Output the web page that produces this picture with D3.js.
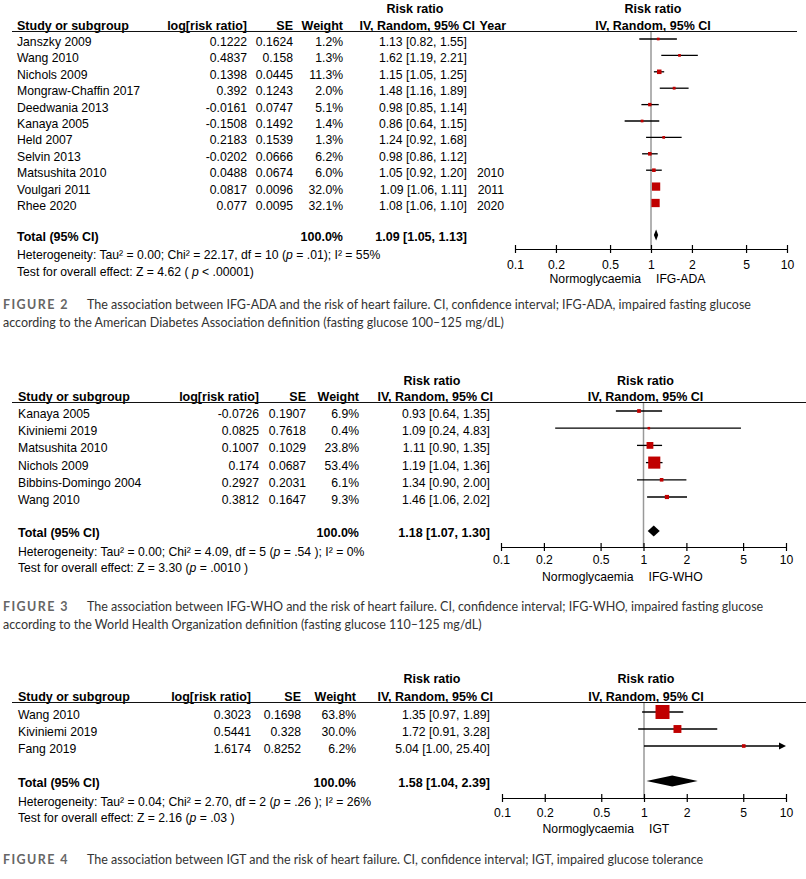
<!DOCTYPE html>
<html>
<head>
<meta charset="utf-8">
<script src="https://cdn.jsdelivr.net/npm/d3@7"></script>
<style>
  body { margin: 0; background: #fff; }
  svg text { font-family: "Liberation Sans", Arial, sans-serif; font-size: 12.2px; fill: #000; }
  svg text.bold { font-weight: bold; font-size: 12.5px; }
  svg text.cap { font-family: Lato, "Open Sans", sans-serif; font-size: 12.5px; fill: #333; }
  svg text.capLabel { font-family: Lato, "Open Sans", sans-serif; font-size: 12.5px; font-weight: bold; letter-spacing: 1.4px; fill: #666; }
</style>
</head>
<body>
<svg width="806" height="879"></svg>
<script>
// Figure 2: IFG-ADA
const adaStudies = ['Janszky 2009', 'Wang 2010', 'Nichols 2009', 'Mongraw-Chaffin 2017', 'Deedwania 2013',
  'Kanaya 2005', 'Held 2007', 'Selvin 2013', 'Matsushita 2010', 'Voulgari 2011', 'Rhee 2020']
const adaLogRR = [0.1222, 0.4837, 0.1398, 0.392, -0.0161, -0.1508, 0.2183, -0.0202, 0.0488, 0.0817, 0.077]
const adaSE = [0.1624, 0.158, 0.0445, 0.1243, 0.0747, 0.1492, 0.1539, 0.0666, 0.0674, 0.0096, 0.0095]
const adaWeight = [1.2, 1.3, 11.3, 2.0, 5.1, 1.4, 1.3, 6.2, 6.0, 32.0, 32.1]
const adaRR = [1.13, 1.62, 1.15, 1.48, 0.98, 0.86, 1.24, 0.98, 1.05, 1.09, 1.08]
const adaLo = [0.82, 1.19, 1.05, 1.16, 0.85, 0.64, 0.92, 0.86, 0.92, 1.06, 1.06]
const adaHi = [1.55, 2.21, 1.25, 1.89, 1.14, 1.15, 1.68, 1.12, 1.20, 1.11, 1.10]
const adaYear = ['', '', '', '', '', '', '', '', '2010', '2011', '2020']
const adaTotal = [1.09, 1.05, 1.13]
const adaHet = ['Heterogeneity: Tau² = 0.00; Chi² = 22.17, df = 10 (', 'p', ' = .01); I² = 55%']
const adaTest = ['Test for overall effect: Z = 4.62 ( ', 'p', ' < .00001)']
const adaCaption = ['FIGURE 2',
  'The association between IFG-ADA and the risk of heart failure. CI, confidence interval; IFG-ADA, impaired fasting glucose',
  'according to the American Diabetes Association definition (fasting glucose 100–125 mg/dL)']

// Figure 3: IFG-WHO
const whoStudies = ['Kanaya 2005', 'Kiviniemi 2019', 'Matsushita 2010', 'Nichols 2009', 'Bibbins-Domingo 2004', 'Wang 2010']
const whoLogRR = [-0.0726, 0.0825, 0.1007, 0.174, 0.2927, 0.3812]
const whoSE = [0.1907, 0.7618, 0.1029, 0.0687, 0.2031, 0.1647]
const whoWeight = [6.9, 0.4, 23.8, 53.4, 6.1, 9.3]
const whoRR = [0.93, 1.09, 1.11, 1.19, 1.34, 1.46]
const whoLo = [0.64, 0.24, 0.90, 1.04, 0.90, 1.06]
const whoHi = [1.35, 4.83, 1.35, 1.36, 2.00, 2.02]
const whoTotal = [1.18, 1.07, 1.30]
const whoHet = ['Heterogeneity: Tau² = 0.00; Chi² = 4.09, df = 5 (', 'p', ' = .54 ); I² = 0%']
const whoTest = ['Test for overall effect: Z = 3.30 (', 'p', ' = .0010 )']
const whoCaption = ['FIGURE 3',
  'The association between IFG-WHO and the risk of heart failure. CI, confidence interval; IFG-WHO, impaired fasting glucose',
  'according to the World Health Organization definition (fasting glucose 110–125 mg/dL)']

// Figure 4: IGT
const igtStudies = ['Wang 2010', 'Kiviniemi 2019', 'Fang 2019']
const igtLogRR = [0.3023, 0.5441, 1.6174]
const igtSE = [0.1698, 0.328, 0.8252]
const igtWeight = [63.8, 30.0, 6.2]
const igtRR = [1.35, 1.72, 5.04]
const igtLo = [0.97, 0.91, 1.00]
const igtHi = [1.89, 3.28, 25.40]
const igtTotal = [1.58, 1.04, 2.39]
const igtHet = ['Heterogeneity: Tau² = 0.04; Chi² = 2.70, df = 2 (', 'p', ' = .26 ); I² = 26%']
const igtTest = ['Test for overall effect: Z = 2.16 (', 'p', ' = .03 )']
const igtCaption = ['FIGURE 4',
  'The association between IGT and the risk of heart failure. CI, confidence interval; IGT, impaired glucose tolerance']

const axisTicks = [0.1, 0.2, 0.5, 1, 2, 5, 10]
const sideLabels = ['Normoglycaemia', 'IFG-ADA', 'IFG-WHO', 'IGT']

const svg = d3.select('svg')
const f2 = d3.format('.2f')
const f1 = d3.format('.1f')
// marker side grows with study weight
const sizeScale = d3.scaleLinear().domain([0, 100]).range([2.5, 20.5])

function mixedText(g, x, y, parts) {
  const t = g.append('text').attr('x', x).attr('y', y)
  parts.forEach((p, i) => {
    t.append('tspan').attr('font-style', i % 2 ? 'italic' : null).text(p)
  })
}

function drawForest(d, L) {
  const g = svg.append('g')
  const n = d.studies.length
  const rowY = d3.scalePoint().domain(d3.range(n)).range(L.rows)
  const x = d3.scaleLog().domain([0.1, 10]).range(L.plotX)

  // headers
  g.append('text').attr('class', 'bold').attr('x', L.rrX).attr('y', L.topY)
    .attr('text-anchor', 'middle').text('Risk ratio')
  g.append('text').attr('class', 'bold').attr('x', x(1) + 2).attr('y', L.topY)
    .attr('text-anchor', 'middle').text('Risk ratio')
  const hy = L.lineY - 2
  g.append('text').attr('class', 'bold').attr('x', L.col.study).attr('y', hy).text('Study or subgroup')
  g.append('text').attr('class', 'bold').attr('x', L.col.logrr).attr('y', hy).attr('text-anchor', 'end').text('log[risk ratio]')
  g.append('text').attr('class', 'bold').attr('x', L.col.se).attr('y', hy).attr('text-anchor', 'end').text('SE')
  g.append('text').attr('class', 'bold').attr('x', L.col.weight).attr('y', hy).attr('text-anchor', 'end').text('Weight')
  g.append('text').attr('class', 'bold').attr('x', L.ciHeadEnd).attr('y', hy).attr('text-anchor', 'end').text('IV, Random, 95% CI')
  if (d.year) {
    g.append('text').attr('class', 'bold').attr('x', L.col.year + 2).attr('y', hy).attr('text-anchor', 'end').text('Year')
  }
  g.append('text').attr('class', 'bold').attr('x', x(1) + 2).attr('y', hy)
    .attr('text-anchor', 'middle').text('IV, Random, 95% CI')

  g.append('line').attr('x1', 12).attr('x2', L.lineX2).attr('y1', L.lineY).attr('y2', L.lineY)
    .attr('stroke', '#111').attr('stroke-width', 1.2)

  // study rows
  const rows = g.selectAll('.row').data(d3.range(n)).enter().append('g').attr('class', 'row')
  const ty = i => rowY(i) + 7
  rows.append('text').attr('x', L.col.study).attr('y', ty).text(i => d.studies[i])
  rows.append('text').attr('x', L.col.logrr).attr('y', ty).attr('text-anchor', 'end').text(i => d.logrr[i])
  rows.append('text').attr('x', L.col.se).attr('y', ty).attr('text-anchor', 'end').text(i => d.se[i])
  rows.append('text').attr('x', L.col.weight).attr('y', ty).attr('text-anchor', 'end').text(i => f1(d.weight[i]) + '%')
  rows.append('text').attr('x', L.col.ci).attr('y', ty).attr('text-anchor', 'end')
    .text(i => `${f2(d.rr[i])} [${f2(d.lo[i])}, ${f2(d.hi[i])}]`)
  if (d.year) {
    rows.append('text').attr('x', L.col.year).attr('y', ty).attr('text-anchor', 'end').text(i => d.year[i])
  }

  // total row
  const tty = L.totalY + 6
  g.append('text').attr('class', 'bold').attr('x', L.col.study).attr('y', tty).text('Total (95% CI)')
  g.append('text').attr('class', 'bold').attr('x', L.col.weight).attr('y', tty).attr('text-anchor', 'end').text('100.0%')
  g.append('text').attr('class', 'bold').attr('x', L.col.ci).attr('y', tty).attr('text-anchor', 'end')
    .text(`${f2(d.total[0])} [${f2(d.total[1])}, ${f2(d.total[2])}]`)
  mixedText(g, L.col.study, L.hetY, d.het)
  mixedText(g, L.col.study, L.testY, d.test)

  // line of no effect
  g.append('line').attr('x1', x(1)).attr('x2', x(1)).attr('y1', L.lineY + 0.5).attr('y2', L.axisY)
    .attr('stroke', '#999').attr('stroke-width', 1.5)

  // CI lines and weighted squares
  const marks = g.selectAll('.mark').data(d3.range(n)).enter().append('g').attr('class', 'mark')
  marks.append('line')
    .attr('x1', i => x(Math.max(d.lo[i], 0.1)))
    .attr('x2', i => x(Math.min(d.hi[i], 10)) - (d.hi[i] > 10 ? 4 : 0))
    .attr('y1', i => rowY(i)).attr('y2', i => rowY(i))
    .attr('stroke', '#000').attr('stroke-width', 1.3)
  marks.filter(i => d.hi[i] > 10).append('path')
    .attr('d', i => {
      const xe = x(10), y = rowY(i)
      return `M${xe - 7},${y - 3.5}L${xe},${y}L${xe - 7},${y + 3.5}Z`
    })
    .attr('fill', '#000')
  marks.append('rect')
    .attr('x', i => x(d.rr[i]) - sizeScale(d.weight[i]) / 2)
    .attr('y', i => rowY(i) - sizeScale(d.weight[i]) / 2)
    .attr('width', i => sizeScale(d.weight[i]))
    .attr('height', i => sizeScale(d.weight[i]))
    .attr('fill', '#c00000')

  // pooled diamond
  const dh = 5.5
  g.append('path')
    .attr('d', `M${x(d.total[1])},${L.totalY}L${x(d.total[0])},${L.totalY - dh}L${x(d.total[2])},${L.totalY}L${x(d.total[0])},${L.totalY + dh}Z`)
    .attr('fill', '#000')

  // log axis
  const ax = g.append('g').attr('transform', `translate(0,${L.axisY})`)
    .call(d3.axisBottom(x).tickValues(axisTicks).tickFormat(d3.format('')).tickSizeInner(4).tickSizeOuter(0))
  ax.select('.domain').attr('stroke', '#000').attr('stroke-width', 1.2)
  ax.selectAll('.tick line').attr('y1', -4).attr('y2', 4).attr('stroke', '#000').attr('stroke-width', 1.2)
  ax.selectAll('.tick text').attr('y', 0).attr('dy', null)
    .attr('transform', `translate(0,${L.tickY - L.axisY})`)
    .attr('font-family', '"Liberation Sans", Arial, sans-serif').attr('font-size', 12.2).attr('fill', '#000')

  g.append('text').attr('x', x(1) - 10).attr('y', L.sideY).attr('text-anchor', 'end').text(sideLabels[0])
  g.append('text').attr('x', x(1) + 5).attr('y', L.sideY).text(d.right)

  // caption
  g.append('text').attr('class', 'capLabel').attr('x', 3).attr('y', L.capY).text(d.caption[0])
  g.append('text').attr('class', 'cap').attr('x', 87).attr('y', L.capY).text(d.caption[1])
  if (d.caption[2]) {
    g.append('text').attr('class', 'cap').attr('x', 3).attr('y', L.capY + 18).text(d.caption[2])
  }
}

drawForest(
  { studies: adaStudies, logrr: adaLogRR, se: adaSE, weight: adaWeight, rr: adaRR, lo: adaLo, hi: adaHi,
    year: adaYear, total: adaTotal, het: adaHet, test: adaTest, caption: adaCaption, right: sideLabels[1] },
  { topY: 13, lineY: 31.5, lineX2: 797, rows: [39, 203], totalY: 235, hetY: 259, testY: 276,
    rrX: 415, ciHeadEnd: 475, col: { study: 17, logrr: 247, se: 293, weight: 343, ci: 467, year: 504 },
    plotX: [515, 787], axisY: 249, tickY: 269, sideY: 283, capY: 309 }
)

drawForest(
  { studies: whoStudies, logrr: whoLogRR, se: whoSE, weight: whoWeight, rr: whoRR, lo: whoLo, hi: whoHi,
    total: whoTotal, het: whoHet, test: whoTest, caption: whoCaption, right: sideLabels[2] },
  { topY: 385, lineY: 402.5, lineX2: 806, rows: [411, 497], totalY: 531, hetY: 556, testY: 572,
    rrX: 432, ciHeadEnd: 493, col: { study: 18, logrr: 259, se: 306, weight: 359, ci: 490 },
    plotX: [501, 786], axisY: 547, tickY: 564, sideY: 581, capY: 611 }
)

drawForest(
  { studies: igtStudies, logrr: igtLogRR, se: igtSE, weight: igtWeight, rr: igtRR, lo: igtLo, hi: igtHi,
    total: igtTotal, het: igtHet, test: igtTest, caption: igtCaption, right: sideLabels[3] },
  { topY: 683, lineY: 702.5, lineX2: 806, rows: [712, 746], totalY: 781, hetY: 806, testY: 822,
    rrX: 432, ciHeadEnd: 493, col: { study: 18, logrr: 251, se: 301, weight: 356, ci: 490 },
    plotX: [502, 786], axisY: 798, tickY: 817, sideY: 833, capY: 864 }
)
</script>
</body>
</html>
